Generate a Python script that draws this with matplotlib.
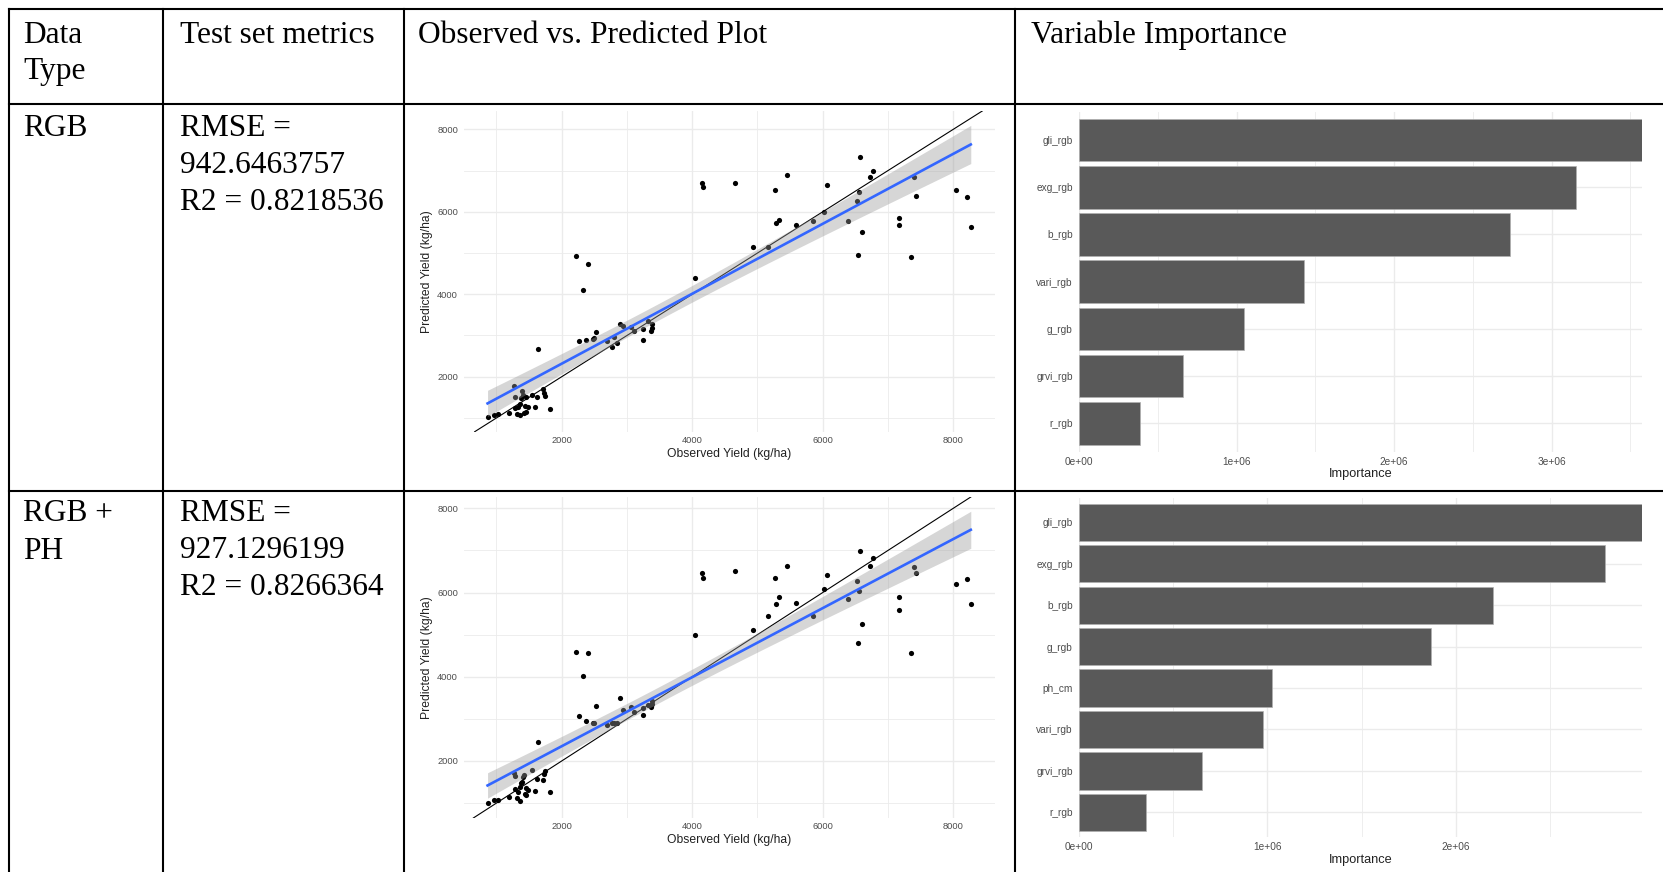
import numpy as np
import matplotlib
matplotlib.use('Agg')
import matplotlib.pyplot as plt
from matplotlib.lines import Line2D
from matplotlib.ticker import FixedLocator, FuncFormatter

plt.rcParams['font.family'] = 'Liberation Sans'

W, H = 1663, 872

# Test-set observed yield (kg/ha), shared by both models
observed = [864, 955, 1028, 1198, 1271, 1277, 1277, 1320, 1332, 1362, 1368, 1380, 1393, 1405,
            1429, 1441, 1453, 1459, 1478, 1545, 1587, 1617, 1636, 1708, 1733, 1745, 1824,
            2219, 2407, 2322, 2261, 2370, 2480, 2498, 2528, 2692, 2771, 2802, 2844, 2893,
            2941, 3063, 3111, 3245, 3251, 3318, 3373, 3379, 3385,
            4035, 4150, 4168, 4654, 4927, 5164, 5274, 5280, 5334, 5450, 5583, 5857, 6021,
            6063, 6379, 6543, 6525, 6555, 6567, 6598, 6719, 6768, 7162, 7162, 7345, 7405,
            7424, 8049, 8213, 8268]

# Predicted yield, RGB model
pred_rgb = [1033, 1081, 1098, 1130, 1784, 1517, 1234, 1090, 1256, 1078, 1337, 1478, 1655, 1556,
            1111, 1297, 1515, 1151, 1272, 1558, 1275, 1517, 2670, 1692, 1612, 1534, 1215,
            4927, 4741, 4111, 2868, 2892, 2915, 2946, 3085, 2860, 2710, 2954, 2830, 3290,
            3235, 3195, 3120, 3160, 2895, 3349, 3100, 3187, 3268,
            4386, 6698, 6609, 6706, 5146, 5154, 6520, 5720, 5801, 6892, 5687, 5776, 5995,
            6650, 5776, 4960, 6270, 6488, 7321, 5501, 6844, 6989, 5857, 5679, 4895, 6852,
            6383, 6520, 6367, 5639]

# Predicted yield, RGB + plant height model
pred_rgb_ph = [1010, 1074, 1082, 1153, 1707, 1644, 1327, 1113, 1271, 1050, 1390, 1469, 1509, 1628,
               1667, 1216, 1367, 1200, 1300, 1786, 1295, 1564, 2459, 1549, 1691, 1762, 1271,
               4580, 4565, 4018, 3076, 2950, 2894, 2894, 3314, 2847, 2900, 2910, 2894, 3504,
               3211, 3290, 3171, 3258, 3084, 3329, 3274, 3345, 3424,
               5000, 6472, 6338, 6520, 5103, 5451, 6338, 5720, 5886, 6638, 5744, 5443, 6084,
               6425, 5847, 4810, 6267, 6037, 6995, 5253, 6638, 6828, 5886, 5594, 4565, 6615,
               6472, 6211, 6314, 5736]

vars_rgb = ['gli_rgb', 'exg_rgb', 'b_rgb', 'vari_rgb', 'g_rgb', 'grvi_rgb', 'r_rgb']
imp_rgb = [3.574e6, 3.158e6, 2.736e6, 1.430e6, 1.049e6, 0.658e6, 0.389e6]

vars_rgb_ph = ['gli_rgb', 'exg_rgb', 'b_rgb', 'g_rgb', 'ph_cm', 'vari_rgb', 'grvi_rgb', 'r_rgb']
imp_rgb_ph = [2.987e6, 2.792e6, 2.199e6, 1.868e6, 1.022e6, 0.974e6, 0.651e6, 0.358e6]

headers = [['Data', 'Type'], ['Test set metrics'], ['Observed vs. Predicted Plot'],
           ['Variable Importance']]
data_types = [['RGB'], ['RGB +', 'PH']]
rmse = [942.6463757, 927.1296199]
r2 = [0.8218536, 0.8266364]

fig = plt.figure(figsize=(W / 100, H / 100), dpi=100)


def px_axes(left, top, right, bottom):
    return fig.add_axes([left / W, 1 - bottom / H, (right - left) / W, (bottom - top) / H])


def hline(y, x0, x1):
    fig.add_artist(Line2D([x0 / W, x1 / W], [1 - y / H, 1 - y / H], transform=fig.transFigure,
                          color='black', lw=1.5, solid_capstyle='projecting'))


def vline(x, y0, y1):
    fig.add_artist(Line2D([x / W, x / W], [1 - y0 / H, 1 - y1 / H], transform=fig.transFigure,
                          color='black', lw=1.5, solid_capstyle='projecting'))


def cell_text(x, y, lines, step=37):
    for i, s in enumerate(lines):
        fig.text(x / W, 1 - (y + i * step) / H, s, family='Liberation Serif', fontsize=22.6,
                 va='baseline', ha='left', color='black')


def t_quantile(df, z=1.959964):
    # Cornish-Fisher expansion of Student t 97.5% quantile
    return (z + (z**3 + z) / (4 * df) + (5 * z**5 + 16 * z**3 + 3 * z) / (96 * df**2))


def minimal_theme(ax, label_size):
    for sp in ax.spines.values():
        sp.set_visible(False)
    ax.set_axisbelow(True)
    ax.grid(which='major', color='#EBEBEB', lw=1.0)
    ax.grid(which='minor', color='#EBEBEB', lw=0.6)
    ax.tick_params(which='both', length=0, labelsize=label_size, colors='#4D4D4D')


def obs_pred_panel(ax, x, y, ylim):
    x = np.asarray(x, float)
    y = np.asarray(y, float)
    ax.scatter(x, y, s=14, color='black', linewidths=0, zorder=2)
    ax.axline((0, 0), slope=1, color='black', lw=0.8, zorder=3)
    n = len(x)
    b1, b0 = np.polyfit(x, y, 1)
    s = np.sqrt(np.sum((y - (b0 + b1 * x)) ** 2) / (n - 2))
    xs = np.linspace(x.min(), x.max(), 100)
    se = s * np.sqrt(1 / n + (xs - x.mean()) ** 2 / np.sum((x - x.mean()) ** 2))
    fit = b0 + b1 * xs
    t = t_quantile(n - 2)
    ax.fill_between(xs, fit - t * se, fit + t * se, color='#999999', alpha=0.4, lw=0, zorder=4)
    ax.plot(xs, fit, color='#3366FF', lw=1.9, zorder=5)
    ax.set_xlim(503, 8639)
    ax.set_ylim(*ylim)
    ax.xaxis.set_major_locator(FixedLocator([2000, 4000, 6000, 8000]))
    ax.yaxis.set_major_locator(FixedLocator([2000, 4000, 6000, 8000]))
    ax.xaxis.set_minor_locator(FixedLocator([1000, 3000, 5000, 7000]))
    ax.yaxis.set_minor_locator(FixedLocator([1000, 3000, 5000, 7000]))
    minimal_theme(ax, 6.7)
    ax.tick_params(axis='x', pad=3)
    ax.tick_params(axis='y', pad=4.3)
    ax.set_xlabel('Observed Yield (kg/ha)', fontsize=8.7, color='#222222', labelpad=2)
    ax.set_ylabel('Predicted Yield (kg/ha)', fontsize=8.7, color='#222222', labelpad=3)


def importance_panel(ax, names, values, majors, minors):
    pos = np.arange(len(names))[::-1]
    ax.barh(pos, values, height=0.9, color='#595959', edgecolor='#B0B0B0', lw=0.5, zorder=2)
    ax.set_yticks(pos)
    ax.set_yticklabels(names)
    ax.set_ylim(-0.6, len(names) - 0.4)
    ax.set_xlim(0, max(values))
    ax.xaxis.set_major_locator(FixedLocator(majors))
    ax.xaxis.set_minor_locator(FixedLocator(minors))
    ax.xaxis.set_major_formatter(FuncFormatter(lambda v, p: f'{v:.0e}'))
    minimal_theme(ax, 7.3)
    ax.tick_params(axis='x', pad=3.6)
    ax.tick_params(axis='y', pad=4.5)
    ax.set_xlabel('Importance', fontsize=9.2, color='#222222', labelpad=1)


# table grid
for y in (9, 104, 491):
    hline(y, 8.5, W)
for x in (8.5, 163, 403.5, 1015):
    vline(x, 9, H)

# header row
cell_text(23, 43, headers[0], step=36.5)
cell_text(180, 43, headers[1])
cell_text(418, 43, headers[2])
cell_text(1031, 43, headers[3])

# body rows
for row_y, dtype, e, r in zip((136, 521), data_types, rmse, r2):
    cell_text(23, row_y, dtype, step=38)
    cell_text(180, row_y, ['RMSE =', f'{e:.7f}', f'R2 = {r:.7f}'], step=37.2)

obs_pred_panel(px_axes(464, 111, 995, 431.7), observed, pred_rgb, (667, 8444))
obs_pred_panel(px_axes(464, 497, 995, 818), observed, pred_rgb_ph, (646, 8268))

importance_panel(px_axes(1079, 111.7, 1642, 451.7), vars_rgb, imp_rgb,
                 [0, 1e6, 2e6, 3e6], [0.5e6, 1.5e6, 2.5e6, 3.5e6])
importance_panel(px_axes(1079, 497.5, 1642, 837.2), vars_rgb_ph, imp_rgb_ph,
                 [0, 1e6, 2e6], [0.5e6, 1.5e6, 2.5e6])

fig.savefig('out.png', dpi=100, facecolor='white')
